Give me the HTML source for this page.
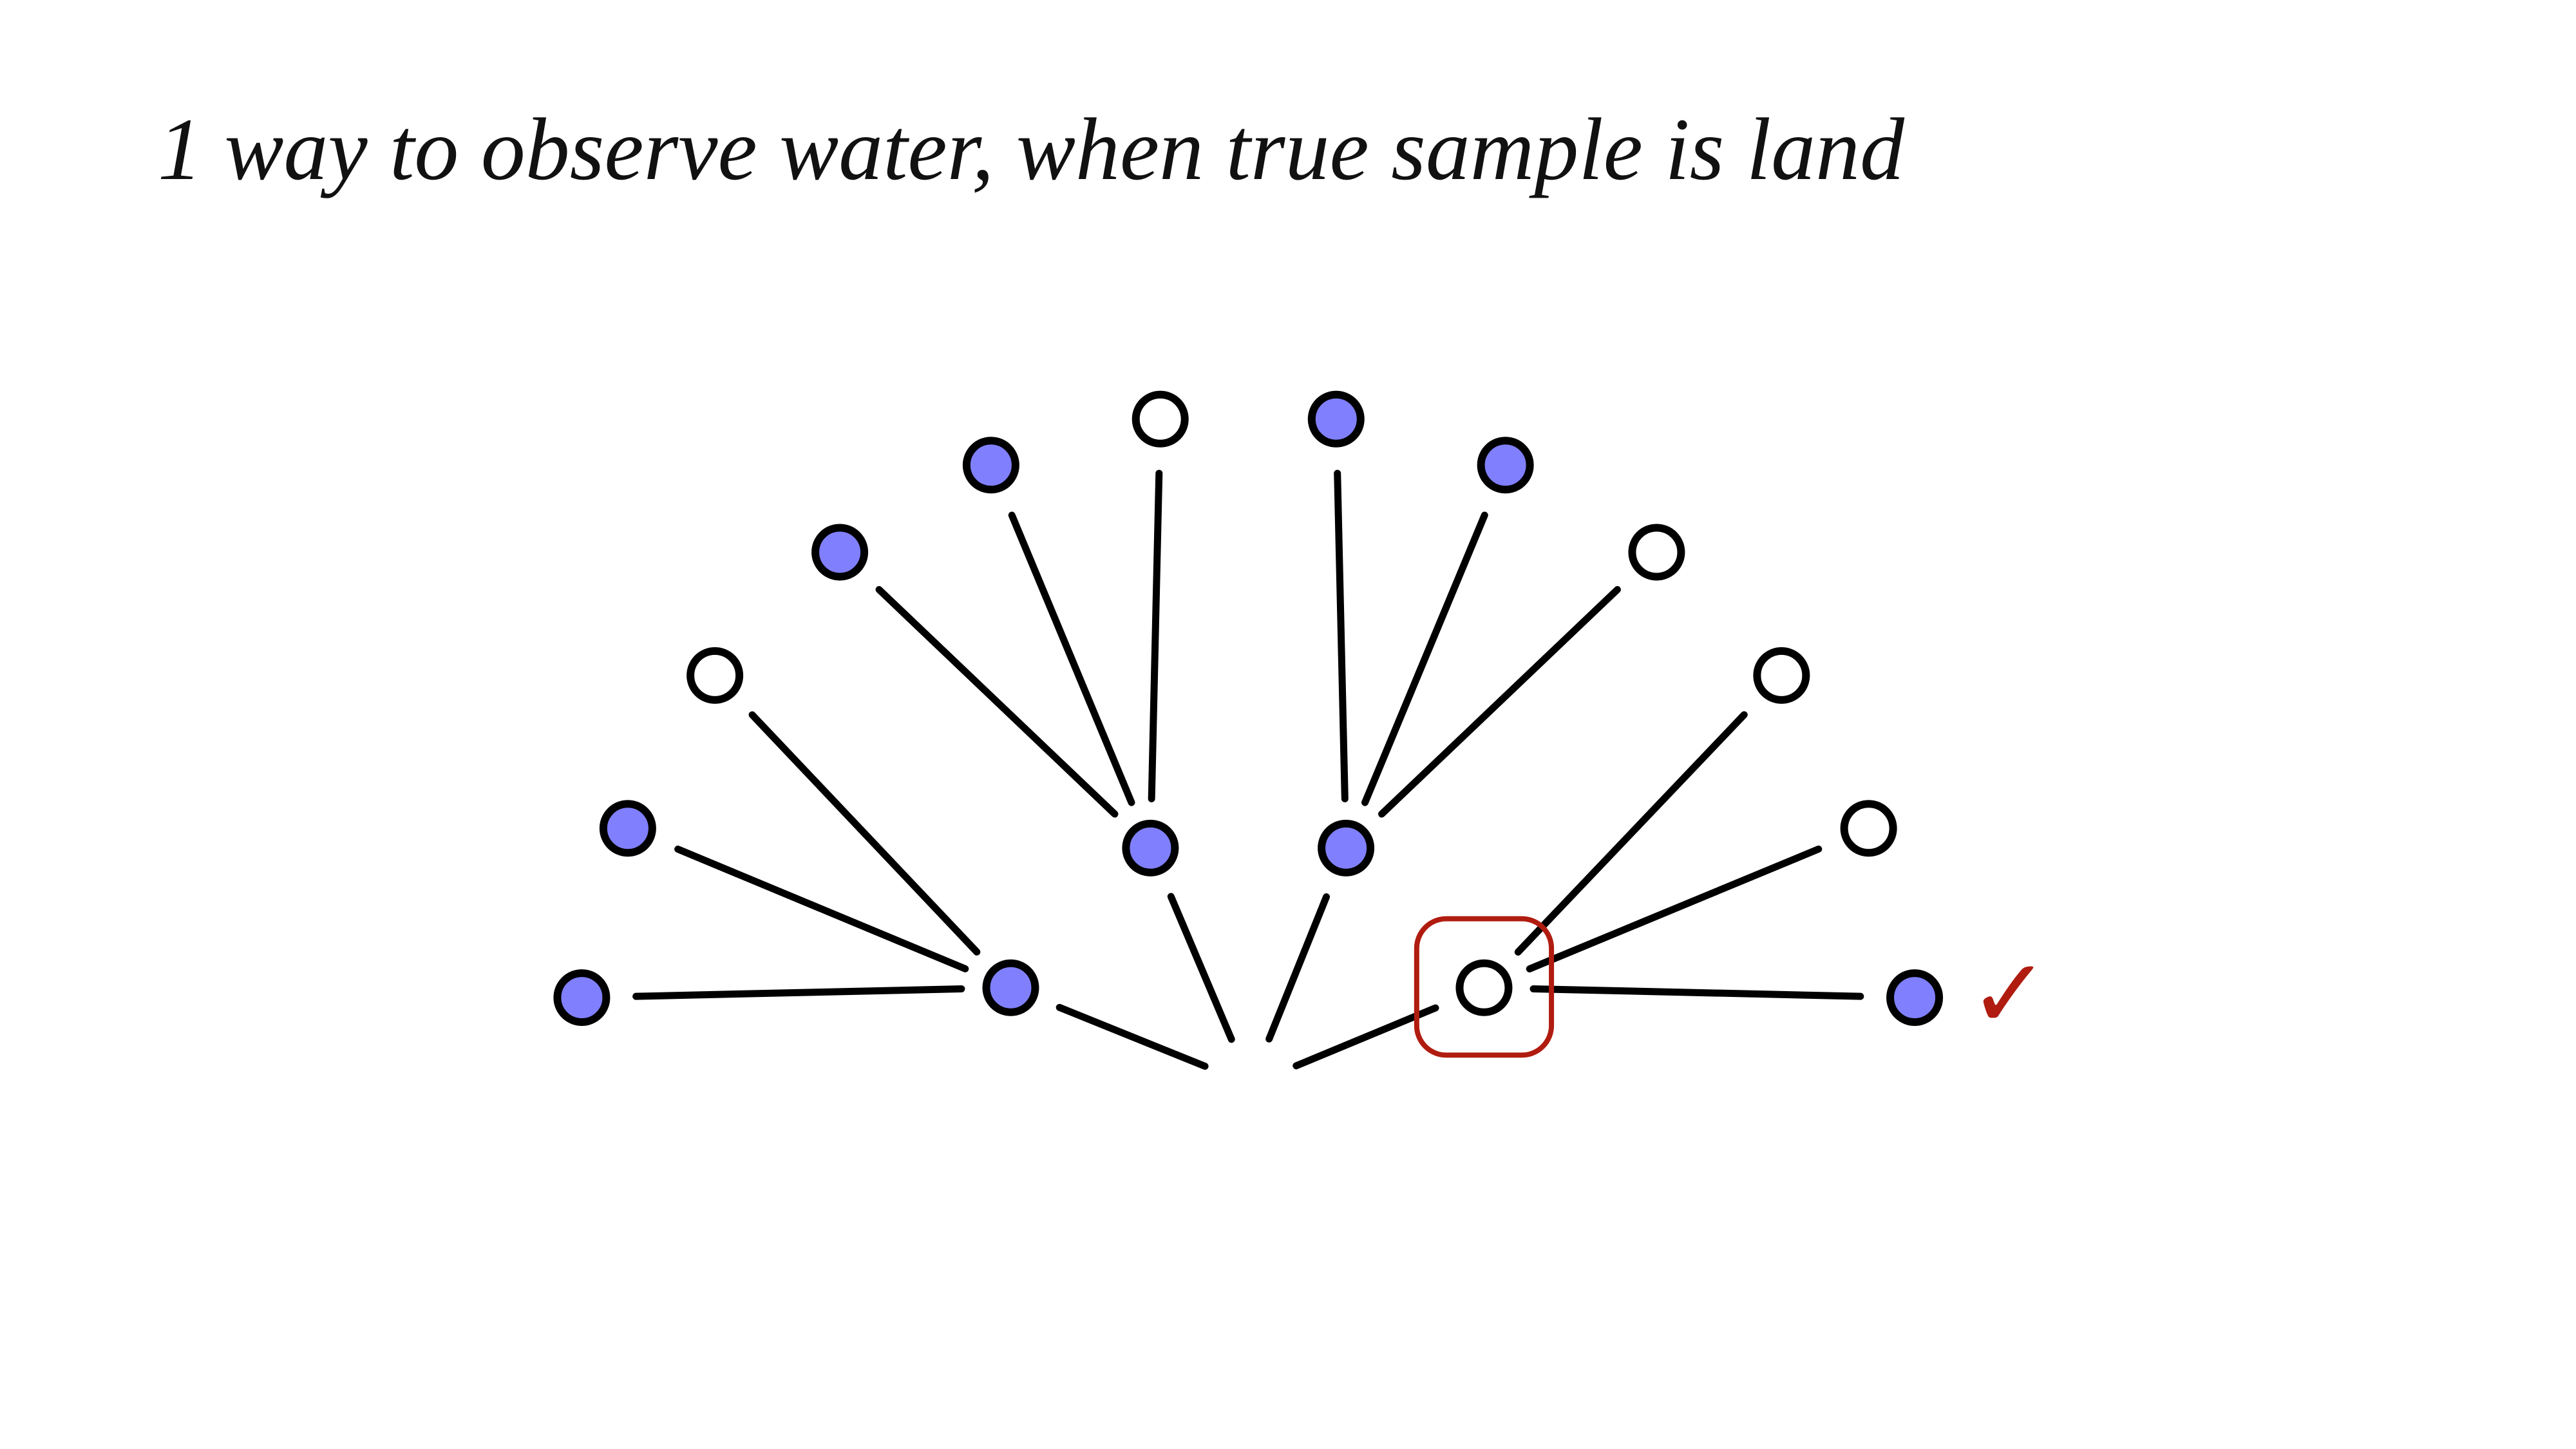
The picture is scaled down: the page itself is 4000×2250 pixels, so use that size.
<!DOCTYPE html>
<html><head><meta charset="utf-8"><style>html,body{margin:0;padding:0;background:#fff}svg{display:block}</style></head>
<body>
<svg id="chart" width="4000" height="2250" viewBox="0 0 4000 2250" xmlns="http://www.w3.org/2000/svg">
<rect width="4000" height="2250" fill="#fff"/>
<text x="245" y="278" font-family="Liberation Serif, serif" font-style="italic" font-size="138" textLength="2712" lengthAdjust="spacingAndGlyphs" fill="#111">1 way to observe water, when true sample is land</text>
<g id="edges"></g><g id="nodes"></g>
</svg>
<script>
const S = 2.552;
const root = [761, 660];
const level1 = [[615,601],[700,516],[819,516],[903,601]];
const level1Water = [true,true,true,false];
const level2 = [
 [[354,607],[382,504],[435,411]],
 [[511,336],[603,283],[706,255]],
 [[813,255],[916,283],[1008,336]],
 [[1084,411],[1137,504],[1165,607]]
];
const level2Water = [[true,true,false],[true,true,false],[true,true,false],[false,false,true]];
const NS='http://www.w3.org/2000/svg';
const eg=document.getElementById('edges'), ng=document.getElementById('nodes'), svg=document.getElementById('chart');
function seg(a,b,ga,gb,name){
  const dx=b[0]-a[0],dy=b[1]-a[1],d=Math.hypot(dx,dy);
  const l=document.createElementNS(NS,'line');
  l.setAttribute('x1',(a[0]+dx*ga/d)*S);l.setAttribute('y1',(a[1]+dy*ga/d)*S);
  l.setAttribute('x2',(b[0]-dx*gb/d)*S);l.setAttribute('y2',(b[1]-dy*gb/d)*S);
  l.setAttribute('stroke','#000');l.setAttribute('stroke-width','11');l.setAttribute('stroke-linecap','round');
  
  
  eg.appendChild(l);
}
function node(p,water,name){
  const c=document.createElementNS(NS,'circle');
  c.setAttribute('cx',p[0]*S);c.setAttribute('cy',p[1]*S);c.setAttribute('r','38');
  c.setAttribute('fill',water?'#8080ff':'#fff');c.setAttribute('stroke','#000');c.setAttribute('stroke-width','12');
  
  
  ng.appendChild(c);
}
level1.forEach((p,i)=>{
  seg(root,p,30,32,'root-edge');
  node(p,level1Water[i],'level1-node');
  level2[i].forEach((q,j)=>{
    seg(p,q,30,33,'branch-edge');
    node(q,level2Water[i][j],'level2-node');
  });
});
const box=document.createElementNS(NS,'rect');
box.setAttribute('x',862*S);box.setAttribute('y',559*S);box.setAttribute('width',82*S);box.setAttribute('height',83*S);
box.setAttribute('rx',18*S);box.setAttribute('fill','none');box.setAttribute('stroke','#b01c10');box.setAttribute('stroke-width','8');


svg.appendChild(box);
const ck=document.createElementNS(NS,'text');
ck.setAttribute('x',1198*S);ck.setAttribute('y',625*S);ck.setAttribute('font-size','150');
ck.setAttribute('font-family','DejaVu Serif, serif');ck.setAttribute('fill','#b01c10');
ck.textContent='\u2713';


svg.appendChild(ck);
</script>
</body></html>
